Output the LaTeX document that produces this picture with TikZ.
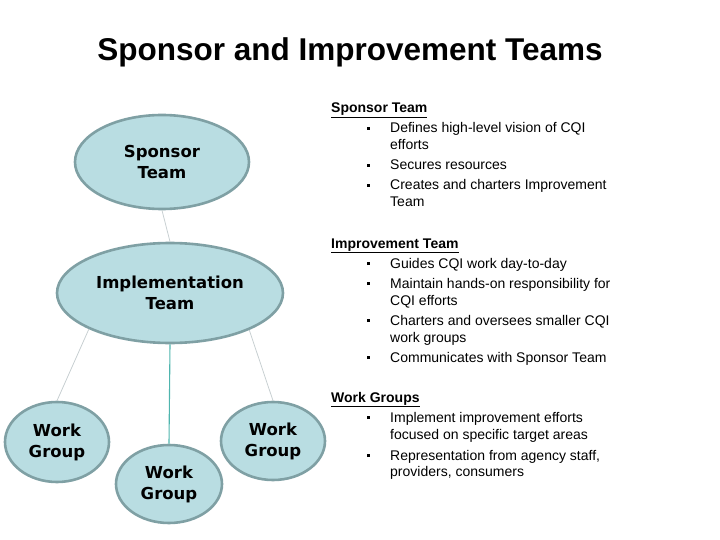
\documentclass[tikz,border=0pt]{standalone}
\usepackage{fontspec}
\setmainfont{Liberation Sans}
\newfontfamily\nodefont{DejaVu Sans}
\usetikzlibrary{shapes.geometric}
\definecolor{ellfill}{HTML}{B9DDE2}
\definecolor{elldraw}{HTML}{7FA0A4}
\definecolor{linkgray}{HTML}{C8D0D2}
\definecolor{linkteal}{HTML}{4FB5AE}
\newcommand{\sqbul}{\raisebox{3pt}{\rule{3pt}{3pt}}}
\tikzset{
  team/.style={ellipse, fill=ellfill, draw=elldraw, line width=2.6pt, inner sep=0pt,
    font=\nodefont\bfseries\fontsize{16.5}{21}\selectfont, align=center, text=black},
  link/.style={draw=linkgray, line width=0.8pt},
  tealink/.style={draw=linkteal, line width=1.1pt},
  head/.style={anchor=base west, font=\bfseries\fontsize{14}{17}\selectfont, inner sep=0pt},
  txt/.style={anchor=base west, font=\fontsize{14}{17}\selectfont, inner sep=0pt},
  bul/.style={anchor=base west, inner sep=0pt},
}
\begin{document}
\begin{tikzpicture}[x=1pt,y=-1pt]
\useasboundingbox (0,0) rectangle (720,540);
\node[anchor=base, font=\bfseries\fontsize{31.5}{36}\selectfont, inner sep=0pt] (title) at (350,61) {Sponsor and Improvement Teams};

\node[team, minimum width=174, minimum height=94] (sp) at (162,162) {Sponsor\\Team};
\node[team, minimum width=226, minimum height=100] (im) at (170,293) {Implementation\\Team};
\node[team, minimum width=104, minimum height=80] (wl) at (57,442) {Work\\Group};
\node[team, minimum width=106, minimum height=78] (wm) at (169,484) {Work\\Group};
\node[team, minimum width=104, minimum height=78] (wr) at (273,441) {Work\\Group};

\draw[link] (sp.south) -- (im.north);
\draw[link] (im.-156) -- (wl.north);
\draw[tealink] (im.south) -- (wm.north);
\draw[link] (im.-25) -- (wr.north);

% Sponsor team text
\node[head] (h1) at (331,113) {\underline{Sponsor Team}};
\node[bul] (b11) at (367,133) {\sqbul};
\node[txt] (t11) at (390,133) {Defines high-level vision of CQI};
\node[txt] (t12) at (390,150) {efforts};
\node[bul] (b12) at (367,170) {\sqbul};
\node[txt] (t13) at (390,170) {Secures resources};
\node[bul] (b13) at (367,190) {\sqbul};
\node[txt] (t14) at (390,190) {Creates and charters Improvement};
\node[txt] (t15) at (390,207) {Team};

% Improvement team text
\node[head] (h2) at (331,248) {\underline{Improvement Team}};
\node[bul] (b21) at (367,268) {\sqbul};
\node[txt] (t21) at (390,268) {Guides CQI work day-to-day};
\node[bul] (b22) at (367,288) {\sqbul};
\node[txt] (t22) at (390,288) {Maintain hands-on responsibility for};
\node[txt] (t23) at (390,305) {CQI efforts};
\node[bul] (b23) at (367,325) {\sqbul};
\node[txt] (t24) at (390,325) {Charters and oversees smaller CQI};
\node[txt] (t25) at (390,342) {work groups};
\node[bul] (b24) at (367,362) {\sqbul};
\node[txt] (t26) at (390,362) {Communicates with Sponsor Team};

% Work groups text
\node[head] (h3) at (331,402) {\underline{Work Groups}};
\node[bul] (b31) at (367,422) {\sqbul};
\node[txt] (t31) at (390,422) {Implement improvement efforts};
\node[txt] (t32) at (390,439) {focused on specific target areas};
\node[bul] (b32) at (367,460) {\sqbul};
\node[txt] (t33) at (390,460) {Representation from agency staff,};
\node[txt] (t34) at (390,476) {providers, consumers};
\end{tikzpicture}
\end{document}
